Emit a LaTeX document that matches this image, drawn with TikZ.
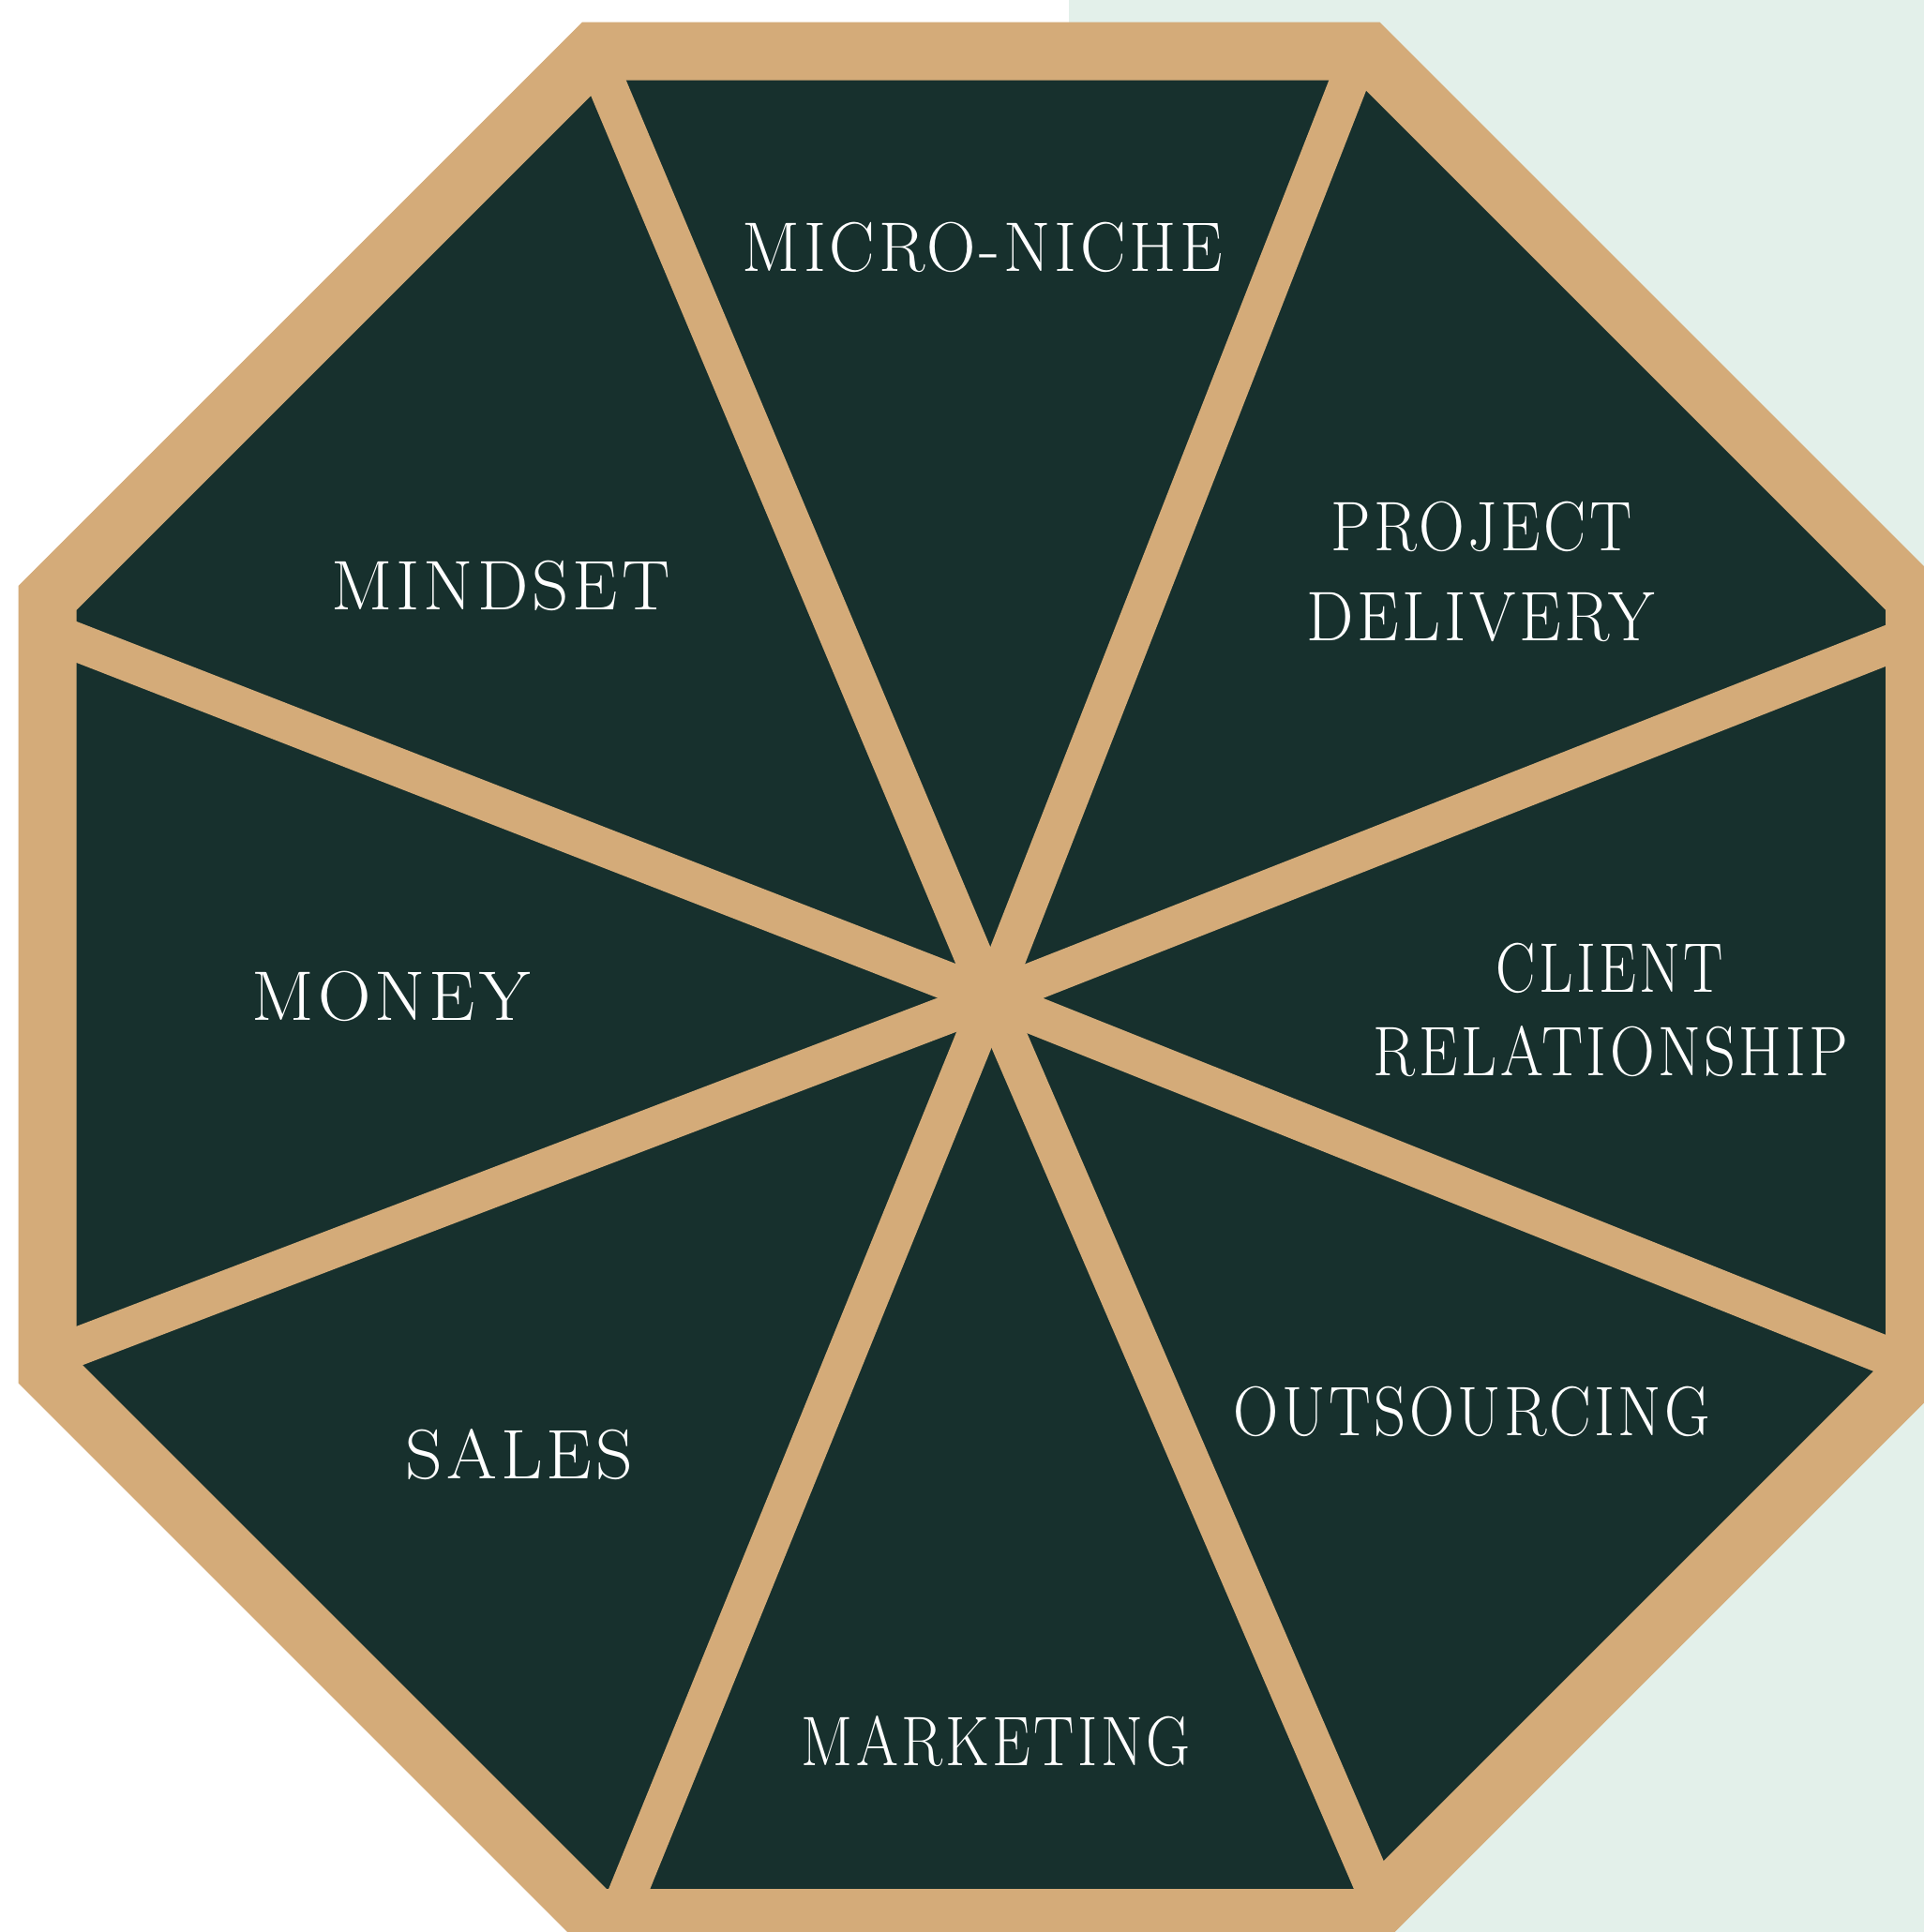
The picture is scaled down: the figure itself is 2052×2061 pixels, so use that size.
\documentclass[tikz,border=0pt]{standalone}
\usepackage{fontspec}
\usetikzlibrary{calc}
\newfontfamily\labelfont{Latin Modern Roman}[FakeStretch=0.95,LetterSpace=5]
\definecolor{frame}{HTML}{D4AB79}
\definecolor{panel}{HTML}{17302D}
\definecolor{mint}{HTML}{E3F0EA}
\begin{document}
\begin{tikzpicture}[x=0.01cm,y=-0.01cm,
  rim/.style={draw=frame,line width=6.2mm,line join=miter},
  spoke/.style={draw=frame,line width=4.1mm},
  lab/.style={text=white,font=\labelfont\fontsize{21.3}{25}\selectfont,inner sep=0pt,anchor=base,transform shape,xscale=#1},
  lab/.default=1]
\useasboundingbox (0,0) rectangle (2052,2061);
% page background: white with a mint band on the right
\fill[white] (0,0) rectangle (2052,2061);
\fill[mint] (1140,0) rectangle (2052,2061);
% octagon corners (centre line of the rim)
\coordinate (T1) at (633.9,54.6);
\coordinate (T2) at (1458.7,54.6);
\coordinate (R1) at (2042,637.9);
\coordinate (R2) at (2042,1462.7);
\coordinate (B2) at (1458.7,2046);
\coordinate (B1) at (633.9,2046);
\coordinate (L2) at (50.6,1462.7);
\coordinate (L1) at (50.6,637.9);
% spoke hub and spoke ends
\coordinate (hub) at (1056.9,1064.7);
\coordinate (sA1) at (645.4,85.4);
\coordinate (sA2) at (1465.7,2013.8);
\coordinate (sB1) at (1439.4,85.4);
\coordinate (sB2) at (671.7,2013.8);
\coordinate (sC1) at (81.5,684.9);
\coordinate (sC2) at (2011.2,1446);
\coordinate (sD1) at (81.5,1436.8);
\coordinate (sD2) at (2011.2,688.8);
% dark panel
\fill[panel] (T1)--(T2)--(R1)--(R2)--(B2)--(B1)--(L2)--(L1)--cycle;
% spokes, kept inside the octagon
\begin{scope}
  \clip (T1)--(T2)--(R1)--(R2)--(B2)--(B1)--(L2)--(L1)--cycle;
  \foreach \p in {sA1,sA2,sB1,sB2,sC1,sC2,sD1,sD2}
    \draw[spoke] (hub) -- ($(hub)!1.15!(\p)$);
\end{scope}
% outer rim
\draw[rim] (T1)--(T2)--(R1)--(R2)--(B2)--(B1)--(L2)--(L1)--cycle;
% segment labels
\node[lab=1.02] (niche) at (1048,289.2) {MICRO-NICHE};
\node[lab=1.08] (mind) at (534,650.7) {MINDSET};
\node[lab=0.95] (proj) at (1580,587.6) {PROJECT};
\node[lab=1.0] (deliv) at (1579,683.5) {DELIVERY};
\node[lab=1.1] (money) at (417,1088.4) {MONEY};
\node[lab=0.89] (client) at (1717,1058.2) {CLIENT};
\node[lab=0.93] (relat) at (1718,1147.6) {RELATIONSHIP};
\node[lab=1.09] (sales) at (554,1577.4) {SALES};
\node[lab=0.94] (outs) at (1570,1531.4) {OUTSOURCING};
\node[lab=0.91] (mkt) at (1062,1883.7) {MARKETING};
\end{tikzpicture}
\end{document}
